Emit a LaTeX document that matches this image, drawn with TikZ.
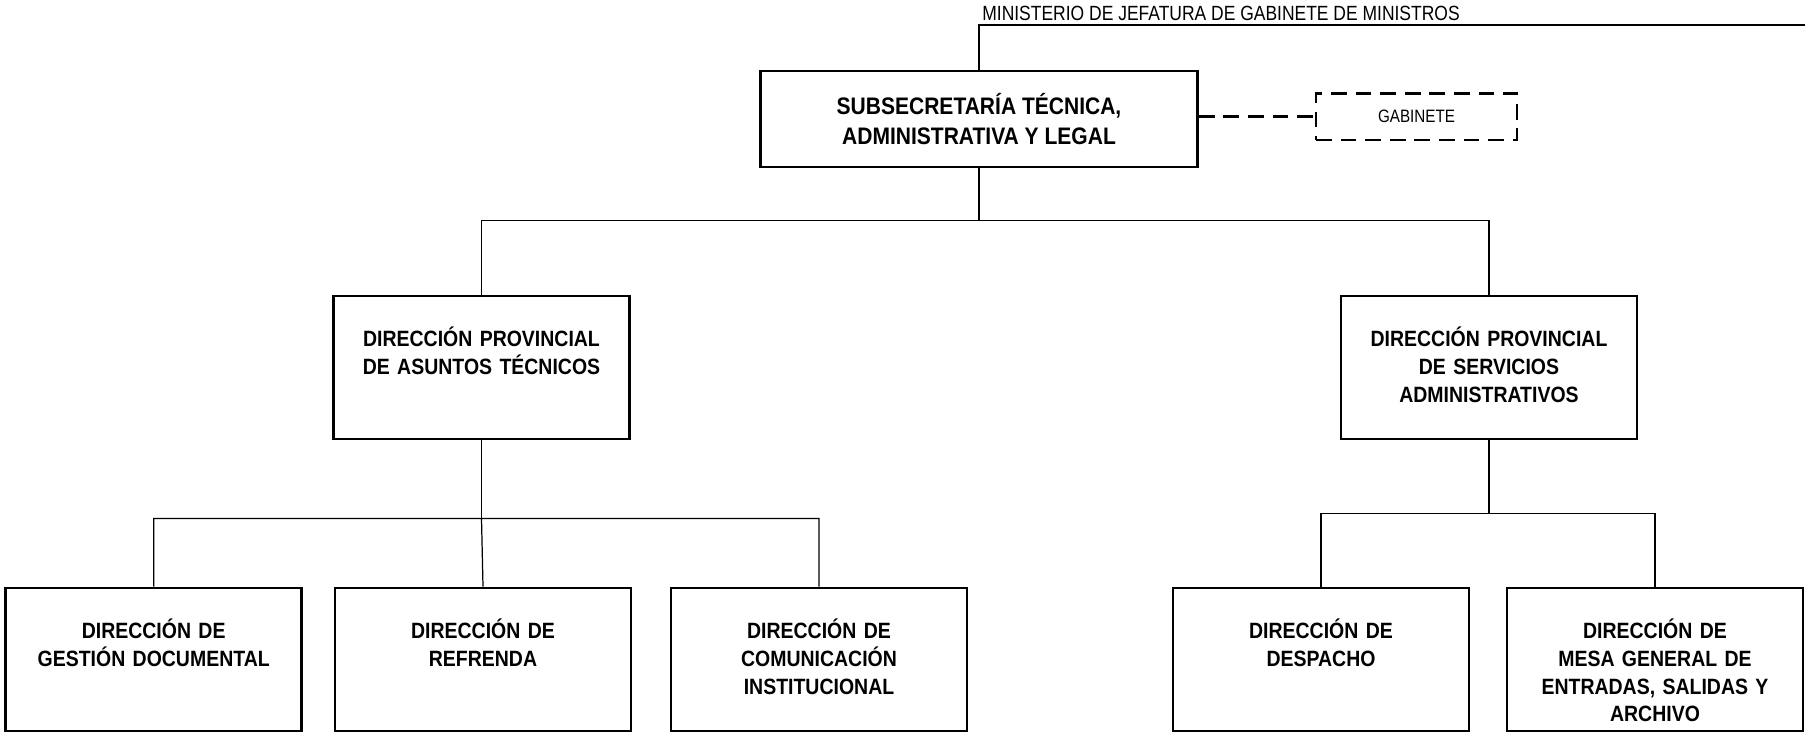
\documentclass[tikz,border=0pt]{standalone}
\usepackage{fontspec}
\setmainfont{Liberation Sans}[FakeStretch=0.85, BoldFeatures={FakeStretch=0.88}]
\usetikzlibrary{positioning}

\begin{document}
\begin{tikzpicture}[x=0.02cm, y=-0.02cm,
    linea/.style={line width=0.7pt},
    superior/.style={draw, line width=1.6pt, minimum width=8.74cm, minimum height=1.92cm,
        align=center, font=\bfseries\fontsize{13.6}{17}\selectfont},
    asesor/.style={draw, line width=1.6pt, dash pattern=on 9pt off 5pt, minimum width=4.02cm,
        minimum height=0.94cm, font=\fontsize{10.2}{12}\selectfont},
    unidad/.style={draw, line width=1.6pt, minimum width=5.92cm, text width=5.4cm, align=center,
        inner ysep=0pt, text height=29pt, text depth=52.4pt,
        font=\bfseries\fontsize{12.6}{15.7}\selectfont}]
    \useasboundingbox (0,0) rectangle (1805,733);

    \node[anchor=base west, inner sep=0pt, font=\fontsize{11.7}{14}\selectfont] (ministerio) at (982,21)
        {MINISTERIO DE JEFATURA DE GABINETE DE MINISTROS};
    \coordinate (tope) at (1805,25);

    \node[superior] (sub) at (979,119) {SUBSECRETARÍA TÉCNICA,\\ ADMINISTRATIVA Y LEGAL};
    \node[asesor] (gab) at (1416.5,116.6) {GABINETE};

    \node[unidad] (dpat) at (481.5,367.5) {DIRECCIÓN PROVINCIAL\\ DE ASUNTOS TÉCNICOS};
    \node[unidad] (dpsa) at (1489,367.5) {DIRECCIÓN PROVINCIAL\\ DE SERVICIOS\\ ADMINISTRATIVOS};

    \node[unidad] (gesdoc) at (153.7,659.5) {DIRECCIÓN DE\\ GESTIÓN DOCUMENTAL};
    \node[unidad] (refrenda) at (483,659.5) {DIRECCIÓN DE\\ REFRENDA};
    \node[unidad] (comunic) at (819,659.5) {DIRECCIÓN DE\\ COMUNICACIÓN\\ INSTITUCIONAL};
    \node[unidad] (despacho) at (1321,659.5) {DIRECCIÓN DE\\ DESPACHO};
    \node[unidad] (mesa) at (1655,659.5) {DIRECCIÓN DE\\ MESA GENERAL DE\\ ENTRADAS, SALIDAS Y\\ ARCHIVO};

    \draw[linea] (sub.north) |- (tope);
    \draw[line width=1.6pt, dash pattern=on 9pt off 5pt] (sub.east |- gab.west) -- (gab.west);

    \draw[linea] (sub.south) -- ++(0,52) coordinate (busA);
    \draw[linea] (busA) -| (dpat.north) (busA) -| (dpsa.north);

    \draw[linea] (dpat.south) -- ++(0,78) coordinate (busB);
    \draw[linea] (busB) -| (gesdoc.north) (busB) -| (comunic.north) (busB) -- (refrenda.north);

    \draw[linea] (dpsa.south) -- ++(0,73) coordinate (busC);
    \draw[linea] (busC) -| (despacho.north) (busC) -| (mesa.north);
\end{tikzpicture}
\end{document}
